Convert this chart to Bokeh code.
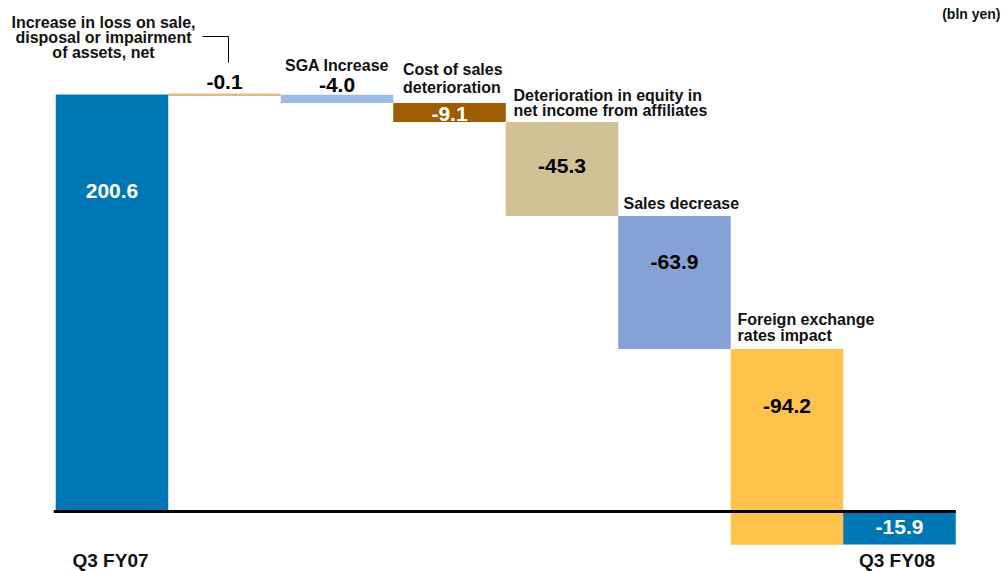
from bokeh.plotting import figure
from bokeh.models import ColumnDataSource
from bokeh.core.properties import value
from bokeh.embed import file_html
from bokeh.resources import INLINE

# ---------------- data ----------------
categories = ["Q3 FY07", "Loss on assets", "SGA", "Cost of sales", "Equity income",
              "Sales", "FX", "Q3 FY08"]
changes = [200.6, -0.1, -4.0, -9.1, -45.3, -63.9, -94.2, -15.9]
is_total = [True, False, False, False, False, False, False, True]
bar_colors = ["#0077B5", "#E4B98A", "#9DBBDF", "#A05C00", "#D1C295",
              "#85A2D6", "#FFC34C", "#0077B5"]
value_label_colors = ["white", "black", "black", "white", "black", "black", "black", "white"]
annotation_lines = [
    [],
    ["Increase in loss on sale,", "disposal or impairment", "of assets, net"],
    ["SGA Increase"],
    ["Cost of sales", "deterioration"],
    ["Deterioration in equity in", "net income from affiliates"],
    ["Sales decrease"],
    ["Foreign exchange", "rates impact"],
    [],
]
unit_label = "(bln yen)"

# ---------------- layout (page pixels) ----------------
ORIGIN = 0
W, H = 1005, 571
ZERO_PY = 511.0
PX_PER_UNIT = (511.0 - 94.0) / 200.6
BAR0_PX = 111.5
BAR_STEP = 112.5

def dx(page_x):
    return (page_x - BAR0_PX) / BAR_STEP

def dy(page_y):
    return (ZERO_PY - page_y) / PX_PER_UNIT

x_start, x_end = dx(ORIGIN), dx(ORIGIN + W)
y_start, y_end = dy(ORIGIN + H), dy(ORIGIN)

# waterfall geometry from data
bottoms, tops = [], []
running = 0.0
for v, tot in zip(changes, is_total):
    if tot:
        lo, hi = min(0, v), max(0, v)
        running = v
    else:
        lo, hi = running + v, running
        running = running + v
    bottoms.append(lo)
    tops.append(hi)

xs = list(range(len(categories)))

p = figure(width=W, height=H, x_range=(x_start, x_end), y_range=(y_start, y_end),
           output_backend="svg", toolbar_location=None, min_border=0,
           background_fill_color="white", border_fill_color="white")
p.axis.visible = False
p.grid.visible = False
p.outline_line_color = None

src = ColumnDataSource(dict(x=xs, top=tops, bottom=bottoms, color=bar_colors))
p.vbar(x="x", top="top", bottom="bottom", width=1.0, fill_color="color",
       line_color="color", line_width=0, source=src)
# the tiny -0.1 change drawn as a visible thin strip
i_small = 1
p.segment(x0=[i_small - 0.5], x1=[i_small + 0.5], y0=[tops[i_small] - 0.1],
          y1=[tops[i_small] - 0.1], line_color=bar_colors[i_small], line_width=2.5)

# zero line
p.segment(x0=[-0.5 - 2 / BAR_STEP], x1=[len(xs) - 0.5], y0=[0], y1=[0],
          line_color="black", line_width=3)

# value labels: offsets (px below bar top)
label_dy_px = [96, -12.7, -9.7, 10.5, 43.6, 45.4, 57.1, 15]
vl_y = [t - d / PX_PER_UNIT for t, d in zip(tops, label_dy_px)]
vl_src = ColumnDataSource(dict(x=xs, y=vl_y, text=[f"{v:.1f}" for v in changes],
                               color=value_label_colors))
p.text(x="x", y="y", text="text", text_color="color", source=vl_src,
       text_font=value("Liberation Sans"), text_font_style="bold",
       text_font_size="21px", text_align="center", text_baseline="middle")

# annotation positions (page px): (anchor x, align, [line center y])
annot_layout = {
    1: (103, "center", [21.5, 36.5, 52]),
    2: (336.5, "center", [64.5]),
    3: (402.5, "left", [68.5, 86.5]),
    4: (513, "left", [94.5, 110]),
    5: (623, "left", [202.5]),
    6: (737, "left", [318.5, 334.5]),
}
for i, lines in enumerate(annotation_lines):
    if not lines:
        continue
    ax, align, ys = annot_layout[i]
    p.text(x=[dx(ax)] * len(lines), y=[dy(yy) for yy in ys], text=lines,
           text_font=value("Liberation Sans"), text_font_style="bold",
           text_font_size="16px", text_color="#111111", text_align=align,
           text_baseline="middle")

# connector for the first annotation
p.line(x=[dx(202), dx(228), dx(228)], y=[dy(36), dy(36), dy(62)],
       line_color="black", line_width=1)

# category labels for totals
p.text(x=[dx(110), dx(896.5)], y=[dy(560), dy(560)],
       text=[categories[0], categories[-1]],
       text_font=value("Liberation Sans"), text_font_style="bold",
       text_font_size="19px", text_color="#111111", text_align="center",
       text_baseline="middle")

# unit label
p.text(x=[dx(1000)], y=[dy(13)], text=[unit_label],
       text_font=value("Liberation Sans"), text_font_style="bold",
       text_font_size="14px", text_color="#111111", text_align="right",
       text_baseline="middle")

open("out.html", "w").write(file_html(p, INLINE))
